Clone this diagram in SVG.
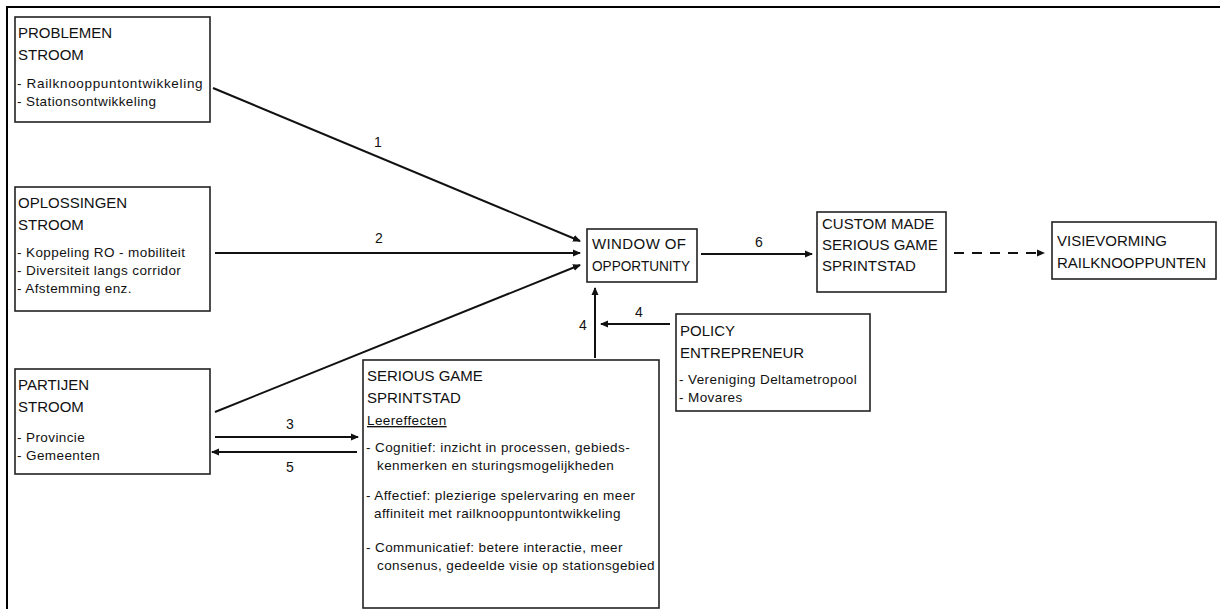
<svg xmlns="http://www.w3.org/2000/svg" width="1220" height="609" viewBox="0 0 1220 609">
<defs>
<marker id="ah" markerWidth="8" markerHeight="8" refX="7" refY="4" orient="auto" markerUnits="userSpaceOnUse">
<path d="M0,0.5 L8,4 L0,7.5 Z" fill="#111"/>
</marker>
<style>
.box{fill:#fff;stroke:#222;stroke-width:1.6}
.t{font-family:"Liberation Sans",Arial,sans-serif;font-size:15px;fill:#111}
.b{font-family:"Liberation Sans",Arial,sans-serif;font-size:13.5px;letter-spacing:0.4px;fill:#111}
.lbl{font-family:"Liberation Sans",Arial,sans-serif;font-size:14px;fill:#111;text-anchor:middle}
.c{fill:none;stroke:#111;stroke-width:2}
</style>
</defs>
<rect width="1220" height="609" fill="#fff"/>
<path d="M7,609 L7,7 L1220,7" fill="none" stroke="#000" stroke-width="2"/>

<g id="connectors">
<line class="c" x1="213" y1="88" x2="580" y2="241" marker-end="url(#ah)"/>
<line class="c" x1="215" y1="253" x2="580" y2="253" marker-end="url(#ah)"/>
<line class="c" x1="215" y1="412" x2="580" y2="265" marker-end="url(#ah)"/>
<line class="c" x1="215" y1="437" x2="358" y2="437" marker-end="url(#ah)"/>
<line class="c" x1="357" y1="452" x2="212" y2="452" marker-end="url(#ah)"/>
<line class="c" x1="595" y1="358" x2="595" y2="288" marker-end="url(#ah)"/>
<line class="c" x1="670" y1="324" x2="601" y2="324" marker-end="url(#ah)"/>
<line class="c" x1="701" y1="254" x2="812" y2="254" marker-end="url(#ah)"/>
<line class="c" x1="954" y1="253" x2="1044" y2="253" stroke-dasharray="10,8" marker-end="url(#ah)"/>
<text class="lbl" x="378" y="147">1</text>
<text class="lbl" x="379" y="243">2</text>
<text class="lbl" x="290" y="429">3</text>
<text class="lbl" x="290" y="472">5</text>
<text class="lbl" x="583" y="330">4</text>
<text class="lbl" x="639" y="317">4</text>
<text class="lbl" x="759" y="247">6</text>
</g>

<g id="problemen">
<rect class="box" x="15" y="17" width="195" height="105"/>
<text class="t" x="18" y="38">PROBLEMEN</text>
<text class="t" x="18" y="60">STROOM</text>
<text class="b" x="17" y="88" textLength="186">- Railknooppuntontwikkeling</text>
<text class="b" x="17" y="106">- Stationsontwikkeling</text>
</g>

<g id="oplossingen">
<rect class="box" x="15" y="187" width="195" height="124"/>
<text class="t" x="18" y="208">OPLOSSINGEN</text>
<text class="t" x="18" y="230">STROOM</text>
<text class="b" x="17" y="257">- Koppeling RO - mobiliteit</text>
<text class="b" x="17" y="275">- Diversiteit langs corridor</text>
<text class="b" x="17" y="293">- Afstemming  enz.</text>
</g>

<g id="partijen">
<rect class="box" x="15" y="369" width="195" height="105"/>
<text class="t" x="18" y="390">PARTIJEN</text>
<text class="t" x="18" y="412">STROOM</text>
<text class="b" x="17" y="442">- Provincie</text>
<text class="b" x="17" y="460">- Gemeenten</text>
</g>

<g id="seriousgame">
<rect class="box" x="363" y="360" width="296" height="248"/>
<text class="t" x="367" y="381">SERIOUS GAME</text>
<text class="t" x="367" y="403">SPRINTSTAD</text>
<text class="b" x="367" y="425" text-decoration="underline">Leereffecten</text>
<text class="b" x="366" y="452">- Cognitief: inzicht in processen, gebieds-</text>
<text class="b" x="377" y="470">kenmerken en sturingsmogelijkheden</text>
<text class="b" x="366" y="500">- Affectief: plezierige spelervaring en meer</text>
<text class="b" x="374" y="518">affiniteit met railknooppuntontwikkeling</text>
<text class="b" x="366" y="552">- Communicatief: betere interactie, meer</text>
<text class="b" x="377" y="570">consenus, gedeelde visie op stationsgebied</text>
</g>

<g id="window">
<rect class="box" x="587" y="229" width="110" height="53"/>
<text class="t" x="592" y="249" textLength="94">WINDOW OF</text>
<text class="t" x="592" y="271" textLength="98" lengthAdjust="spacingAndGlyphs">OPPORTUNITY</text>
</g>

<g id="policy">
<rect class="box" x="676" y="314" width="194" height="97"/>
<text class="t" x="680" y="336">POLICY</text>
<text class="t" x="680" y="358">ENTREPRENEUR</text>
<text class="b" x="679" y="384">- Vereniging Deltametropool</text>
<text class="b" x="679" y="402">- Movares</text>
</g>

<g id="custom">
<rect class="box" x="817" y="212" width="129" height="80"/>
<text class="t" x="822" y="229">CUSTOM MADE</text>
<text class="t" x="822" y="250">SERIOUS GAME</text>
<text class="t" x="822" y="271">SPRINTSTAD</text>
</g>

<g id="visie">
<rect class="box" x="1052" y="222" width="164" height="57"/>
<text class="t" x="1057" y="246">VISIEVORMING</text>
<text class="t" x="1057" y="268">RAILKNOOPPUNTEN</text>
</g>
</svg>
